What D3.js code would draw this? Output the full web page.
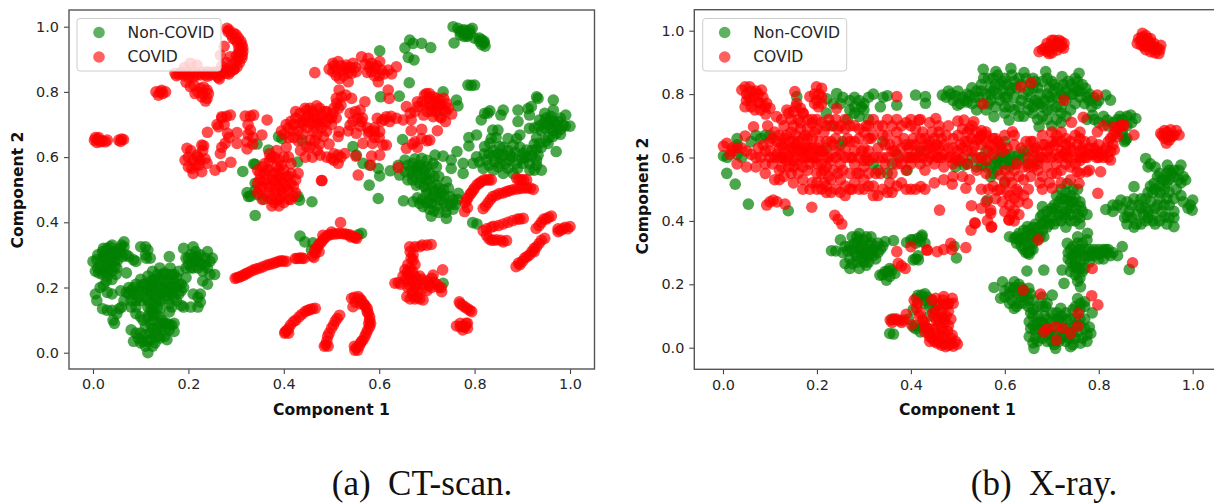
<!DOCTYPE html>
<html><head><meta charset="utf-8">
<script src="https://cdnjs.cloudflare.com/ajax/libs/d3/7.8.5/d3.min.js"></script>
<style>html,body{margin:0;padding:0;background:#fff;overflow:hidden}svg{display:block}</style>
</head><body><svg id="c" width="1214" height="503"></svg>
<script>
const tickValues=[0,0.2,0.4,0.6,0.8,1];
const yTickValues=[0,0.2,0.4,0.6,0.8,1];
const seriesNames=["Non-COVID","COVID"];
const xLabel="Component 1", yLabel="Component 2";
const captions=["(a)  CT-scan.","(b)  X-ray."];

const ctNonCovid=[
[0,.28],[.005,.25],[.01,.26],[.01,.3],[.015,.27],[.02,.24],[.02,.31],[.025,.28],[.025,.25],[.03,.32],[.03,.29],[.03,.265],[.03,.235],[.035,.3],[.035,.27],[.04,.25],[.04,.33],[.04,.225],[.045,.28],[.045,.31],[.05,.26],[.05,.3],[.055,.32],[.06,.33],[.065,.34],[.065,.325],[.07,.3],[.075,.295],[.085,.285],[.09,.28],[.07,.245],[.02,.29],[.028,.31],[.038,.285],[.012,.245],[.048,.24],
[.005,.18],[.008,.16],[.015,.2],[.022,.205],[.03,.185],[.02,.135],[.03,.13],[.04,.18],[.04,.13],[.055,.135],[.06,.14],[.045,.09],[.042,.1],[.05,.12],[.058,.19],[.07,.185],[.08,.14],[.085,.18],[.08,.19],[.09,.21],[.075,.2],[.08,.16],[.09,.12],[.1,.11],[.1,.16],[.1,.2],[.1,.225],[.105,.19],[.11,.17],[.11,.21],[.115,.235],[.12,.2],[.12,.15],[.12,.18],[.125,.25],[.125,.22],[.13,.17],[.13,.19],[.135,.14],[.135,.21],[.135,.24],[.14,.16],[.14,.26],[.145,.2],[.145,.18],[.15,.22],[.15,.165],[.155,.24],[.16,.2],[.16,.15],[.162,.26],[.165,.18],[.17,.22],[.17,.24],[.175,.2],[.175,.16],[.18,.25],[.18,.18],[.185,.21],[.19,.14],[.185,.145],[.195,.23],[.165,.14],[.16,.125],
[.1,.325],[.11,.325],[.115,.315],[.12,.29],[.16,.295],[.11,.3],[.112,.29],
[.19,.32],[.195,.29],[.2,.27],[.205,.3],[.21,.325],[.215,.28],[.22,.26],[.215,.31],[.225,.3],[.23,.25],[.235,.27],[.24,.31],[.245,.28],[.25,.29],[.23,.22],[.24,.21],[.255,.24],[.245,.24],[.205,.14],[.21,.18],[.22,.17],[.225,.18],[.22,.14],[.225,.155],
[.08,.07],[.085,.035],[.09,.06],[.1,.03],[.1,.06],[.105,.035],[.11,.08],[.115,0],[.115,.035],[.12,.06],[.125,.1],[.13,.03],[.13,.06],[.13,.12],[.135,.075],[.14,.045],[.145,.1],[.15,.07],[.155,.04],[.155,.09],[.16,.07],[.165,.085],[.17,.065],[.17,.09],[.105,.1],[.12,.125],
[.34,.421],[.434,.358],[.444,.34],[.461,.337],[.458,.315],[.563,.366],[.556,.362],[.734,.213],[.389,.663],[.396,.657],[.344,.64],[.368,.622],[.337,.579],[.34,.578],[.314,.556],[.429,.585],[.323,.491],[.326,.479],[.358,.471],[.34,.499],[.43,.479],[.433,.468],[.459,.463],[.438,.652],[.33,.48],[.345,.485],[.34,.52],
[.755,1],[.765,.995],[.77,.985],[.775,.99],[.78,.98],[.785,.975],[.79,.99],[.795,.995],[.785,.97],[.8,.965],[.81,.965],[.815,.96],[.82,.95],[.822,.94],[.82,.955],[.757,.95],
[.664,.959],[.654,.935],[.671,.949],[.689,.949],[.708,.936],[.661,.906],[.673,.898],[.601,.926],[.663,.828],[.603,.785],[.642,.787],[.786,.821],[.8,.821],[.793,.82],[.734,.8],[.762,.775],[.765,.757],[.93,.785],[.933,.78],[.965,.775],
[.814,.714],[.821,.734],[.832,.742],[.828,.735],[.86,.744],[.855,.729],[.891,.744],[.891,.709],[.912,.749],[.919,.755],[.915,.729],[.947,.734],[.965,.744],[.991,.729],[1,.695],[.985,.698],[.971,.698],[.958,.714],[.95,.72],[.947,.688],[.971,.673],[.964,.663],[.936,.714],[.915,.688],[.895,.668],[.888,.657],[.881,.637],[.87,.657],[.838,.683],[.849,.683],[.835,.657],[.832,.642],[.821,.632],[.804,.668],[.788,.66],[.788,.634],[.853,.632],[.909,.622],[.936,.642],[.971,.617],[.954,.642],[.933,.606],[.93,.591],[.94,.56],[.916,.56],[.901,.611],[.86,.606],[.873,.591],[.888,.581],[.901,.581],[.853,.581],[.842,.586],[.825,.591],[.804,.601],[.797,.581],[.818,.565],[.839,.56],[.86,.55],[.881,.55],[.776,.581],[.776,.55],[.763,.617],[.751,.591],[.751,.565],[.734,.603],[.717,.606],[.713,.581],[.689,.596],[.671,.581],[.678,.56],[.696,.56],[.706,.55],[.72,.57],[.654,.591],[.64,.575],[.643,.545],[.623,.558],[.601,.542],[.598,.565],[.58,.575],[.566,.581],[.545,.632],[.552,.606],[.649,.654],[.579,.514],[.598,.473],[.651,.466],[.671,.463],[.678,.514],[.699,.53],[.72,.514],[.741,.525],[.745,.504],[.699,.489],[.713,.479],[.727,.468],[.748,.479],[.766,.489],[.685,.458],[.71,.458],[.741,.448],[.76,.455],[.709,.419],[.741,.412],[.755,.44],[.796,.399],[.805,.395],[.692,.448],[.67,.545],[.685,.575],[.7,.59],[.695,.51],[.69,.535],[.71,.51],[.73,.49],[.725,.54],[.665,.56],[.705,.47],[.72,.45],[.735,.46],[.86,.63],[.87,.62],[.845,.66],[.85,.61],[.83,.61],[.96,.69],[.955,.66],[.94,.68],[.93,.66],[.98,.67],[.925,.64],[.92,.62],[.905,.6],[.88,.6]
];
const ctNonCovidMore=[
[.008,.285],[.018,.255],[.024,.3],[.032,.255],[.033,.31],[.042,.295],[.046,.265],[.052,.285],[.058,.31],[.062,.295],[.022,.32],[.028,.22],[.036,.325],
[.095,.17],[.095,.19],[.105,.21],[.115,.19],[.115,.16],[.12,.22],[.125,.185],[.125,.205],[.13,.225],[.13,.15],[.135,.185],[.135,.165],[.14,.2],[.14,.225],[.145,.24],[.15,.19],[.15,.245],[.155,.21],[.155,.175],[.16,.225],[.16,.185],[.165,.2],[.165,.24],[.17,.2],[.17,.17],[.175,.23],[.18,.21],[.185,.19],[.19,.2],[.075,.18],[.085,.2],[.09,.16],[.115,.14],[.125,.13],[.14,.135],[.09,.14],[.065,.16],
[.205,.26],[.21,.29],[.21,.26],[.218,.295],[.222,.28],[.228,.27],[.235,.29],[.2,.29],[.195,.26],[.24,.26],
[.095,.045],[.11,.055],[.11,.02],[.12,.04],[.125,.075],[.125,.02],[.135,.05],[.14,.09],[.14,.11],[.15,.05],[.145,.08],[.15,.09],[.115,.11],[.12,.09],[.125,.115],[.16,.085],
[.77,.975],[.78,.99],[.79,.98],[.778,.97],[.81,.955],[.815,.945],
[.98,.72],[.975,.71],[.965,.71],[.96,.725],[.955,.7],[.945,.705],[.935,.695],[.925,.69],[.99,.695],[.98,.685],[.965,.68],[.95,.65],[.94,.63],[.93,.625],[.92,.605],[.91,.6],[.895,.63],[.885,.615],[.875,.605],[.865,.58],[.85,.57],[.87,.565],[.89,.565],[.83,.575],[.81,.585],[.82,.61],[.84,.62],[.84,.605],[.855,.6],[.9,.595],[.915,.58],[.93,.575],[.925,.56],
[.68,.55],[.685,.52],[.695,.54],[.68,.57],[.69,.565],[.7,.57],[.705,.53],[.715,.54],[.67,.53],[.66,.53],[.655,.555],[.66,.575],[.675,.595],[.7,.5],[.715,.495],[.725,.505],[.735,.5],[.735,.48],[.72,.48],[.705,.44],[.715,.435],[.725,.43],[.74,.43],[.69,.47],[.68,.475],[.7,.46],[.755,.47],[.765,.47],[.75,.455]
];
const ctCovid=[
[.281,.995],[.285,.99],[.295,.98],[.3,.975],[.305,.965],[.31,.955],[.312,.945],[.314,.935],[.314,.924],[.313,.913],[.312,.903],[.307,.89],[.302,.877],[.295,.869],[.288,.862],[.278,.857],[.267,.852],[.256,.852],[.246,.852],[.235,.852],[.225,.852],[.218,.852],[.205,.852],[.19,.852],[.18,.854],[.172,.857],[.204,.888],[.218,.882],[.192,.875],[.267,.913],[.288,.908],[.28,.89],[.27,.88],[.275,.94],[.204,.816],[.212,.82],[.225,.811],[.239,.806],[.239,.78],[.214,.795],[.195,.83],[.23,.795],[.265,.84],
[.132,.8],[.141,.8],[.146,.795],[.152,.8],[.003,.652],[.01,.655],[.015,.647],[.02,.65],[.026,.647],[.054,.652],[.06,.655],[.064,.654],
[.263,.693],[.27,.724],[.28,.725],[.288,.729],[.319,.726],[.33,.726],[.337,.729],[.365,.714],[.24,.676],[.282,.673],[.302,.675],[.33,.683],[.354,.668],[.323,.647],[.323,.625],[.302,.642],[.277,.642],[.267,.611],[.228,.637],[.197,.627],[.218,.606],[.205,.62],[.239,.581],[.193,.591],[.207,.565],[.228,.555],[.256,.56],[.27,.571],[.289,.584],[.225,.591],[.27,.63],[.23,.62],[.285,.66],[.335,.66],[.21,.59],
[.345,.52],[.35,.55],[.35,.5],[.36,.53],[.36,.58],[.365,.48],[.37,.51],[.37,.56],[.375,.6],[.38,.53],[.38,.46],[.385,.5],[.385,.57],[.39,.54],[.39,.59],[.395,.48],[.4,.52],[.4,.56],[.41,.5],[.41,.54],[.415,.47],[.42,.51],[.425,.53],[.43,.55],[.425,.49],[.41,.6],[.405,.63],[.38,.6],[.37,.59],[.39,.47],[.345,.49],[.4,.46],[.48,.528],
[.465,.859],[.503,.888],[.514,.893],[.531,.882],[.545,.888],[.552,.862],[.542,.857],[.525,.865],[.503,.862],[.517,.841],[.535,.831],[.563,.908],[.577,.903],[.584,.888],[.601,.893],[.584,.862],[.598,.831],[.605,.867],[.619,.867],[.626,.855],[.636,.877],[.619,.806],[.621,.78],[.495,.87],[.59,.875],
[.516,.806],[.521,.785],[.542,.78],[.511,.765],[.57,.77],[.503,.734],[.469,.757],[.448,.744],[.434,.734],[.479,.729],[.49,.708],[.469,.704],[.462,.678],[.483,.663],[.455,.652],[.448,.632],[.476,.606],[.5,.596],[.514,.581],[.514,.606],[.528,.611],[.516,.678],[.514,.663],[.539,.734],[.56,.744],[.539,.698],[.563,.709],[.552,.673],[.58,.678],[.601,.678],[.577,.673],[.596,.719],[.615,.724],[.622,.709],[.636,.719],[.65,.714],[.657,.755],[.681,.755],[.695,.76],[.667,.714],[.667,.681],[.689,.685],[.722,.681],[.693,.729],[.713,.724],[.727,.724],[.739,.709],[.752,.732],[.699,.795],[.713,.785],[.727,.775],[.741,.765],[.72,.755],[.734,.744],[.725,.76],[.705,.78],[.675,.647],[.689,.657],[.706,.652],[.657,.627],[.566,.642],[.586,.642],[.608,.637],[.615,.637],[.551,.603],[.584,.603],[.601,.606],[.582,.575],[.64,.568],[.556,.545],[.479,.528],
[.41,.69],[.42,.7],[.425,.72],[.43,.68],[.44,.67],[.44,.71],[.45,.69],[.46,.72],[.47,.67],[.475,.7],[.43,.65],[.42,.66],[.405,.7],[.395,.68],[.41,.66],[.445,.75],[.46,.74],[.49,.74],[.5,.72],[.51,.72],[.48,.69],[.495,.64],[.435,.62],[.46,.6],[.445,.6],[.535,.68],[.56,.695],[.555,.72],[.605,.71],[.59,.68],
[.298,.228],[.306,.232],[.316,.238],[.325,.245],[.337,.254],[.35,.26],[.365,.269],[.378,.274],[.39,.28],[.399,.281],[.424,.289],[.433,.29],[.442,.289],[.463,.292],[.466,.305],[.47,.32],[.476,.335],[.484,.349],[.493,.361],[.505,.364],[.518,.366],[.53,.364],[.539,.361],[.546,.356],[.553,.351],[.519,.399],
[.403,.064],[.41,.074],[.42,.095],[.432,.11],[.445,.126],[.455,.132],[.466,.136],[.488,.024],[.492,.05],[.5,.075],[.508,.097],[.517,.115],
[.549,.008],[.555,.008],[.56,.028],[.566,.039],[.573,.06],[.58,.08],[.58,.1],[.577,.121],[.575,.135],[.57,.146],[.563,.16],[.556,.172],[.542,.167],[.545,.141],
[.664,.325],[.675,.325],[.69,.33],[.709,.332],[.671,.3],[.671,.284],[.66,.27],[.654,.254],[.66,.24],[.67,.25],[.633,.213],[.645,.21],[.66,.22],[.68,.21],[.69,.225],[.7,.22],[.71,.228],[.72,.21],[.73,.2],[.658,.172],[.67,.175],[.68,.17],[.692,.162],[.675,.2],[.7,.19],[.66,.2],[.731,.187],[.733,.254],[.713,.238],[.685,.235],
[.768,.156],[.775,.145],[.785,.135],[.794,.126],[.776,.08],[.782,.09],[.762,.082],[.785,.075],
[.818,.374],[.835,.385],[.85,.39],[.87,.4],[.89,.41],[.902,.412],[.83,.35],[.846,.346],[.855,.345],[.867,.344],[.929,.381],[.94,.4],[.95,.41],[.961,.419],[.887,.264],[.9,.28],[.915,.3],[.93,.325],[.947,.351],[.975,.371],[.985,.38],[1,.387],
[.783,.468],[.79,.485],[.797,.499],[.805,.515],[.814,.525],[.825,.53],[.835,.53],[.818,.442],[.828,.46],[.838,.479],[.852,.488],[.867,.494],[.88,.5],[.895,.504],[.91,.505],[.923,.501],[.888,.535],[.898,.53],[.909,.53],[.779,.433]
];
const ctCovidMore=[
[.283,.985],[.29,.975],[.298,.96],[.303,.95],[.306,.935],[.305,.92],[.305,.905],[.3,.895],[.29,.88],[.282,.87],[.272,.865],[.26,.862],[.25,.86],[.24,.862],[.23,.86],[.212,.86],[.198,.858],[.185,.86],[.3,.91],[.308,.925],[.293,.965],[.296,.87],[.262,.845],[.285,.855],[.24,.848],[.21,.845],[.2,.845],[.175,.85],
[.22,.8],[.232,.815],[.242,.795],[.228,.785],[.236,.772],[.137,.79],[.144,.805],[.008,.645],[.012,.66],[.03,.652],[.058,.648],[.005,.66],
[.22,.6],[.215,.575],[.2,.57],[.21,.55],[.222,.575],[.2,.6],[.235,.595],[.232,.635],[.27,.72],[.26,.7],[.275,.7],[.325,.7],[.325,.67],[.335,.64],
[.35,.53],[.355,.51],[.36,.55],[.365,.52],[.365,.56],[.37,.49],[.375,.53],[.375,.47],[.38,.55],[.38,.5],[.385,.47],[.385,.53],[.39,.51],[.39,.56],[.395,.53],[.395,.5],[.4,.49],[.405,.51],[.405,.54],[.41,.47],[.415,.52],[.415,.55],[.42,.48],[.375,.45],[.39,.45],[.355,.47],[.355,.57],[.395,.575],[.37,.61],[.385,.62],[.4,.6],[.415,.58],[.345,.56],
[.505,.88],[.51,.87],[.52,.88],[.53,.875],[.535,.86],[.54,.875],[.55,.875],[.51,.85],[.525,.85],[.57,.885],[.58,.875],[.59,.85],[.6,.85],[.61,.855],[.595,.88],[.575,.86],
[.44,.7],[.445,.72],[.45,.73],[.455,.71],[.455,.75],[.46,.7],[.465,.73],[.47,.72],[.475,.75],[.48,.71],[.485,.74],[.495,.72],[.505,.75],[.51,.78],[.515,.75],[.52,.76],[.53,.79],[.5,.7],[.49,.68],[.465,.65],[.475,.64],[.47,.62],[.455,.63],[.49,.6],[.505,.61],[.505,.59],[.52,.6],[.545,.71],[.55,.74],[.565,.72],[.575,.69],[.59,.66],[.6,.66],[.61,.715],[.625,.725],[.59,.69],[.425,.74],[.435,.705],[.415,.71],[.42,.68],[.4,.67],
[.68,.77],[.69,.77],[.705,.76],[.71,.755],[.715,.77],[.72,.78],[.73,.76],[.74,.74],[.745,.75],[.7,.74],[.71,.74],[.72,.74],[.73,.72],[.675,.74],[.665,.735],[.695,.79],[.705,.795],[.735,.78],[.7,.65],[.67,.64],[.68,.63],
[.302,.23],[.311,.235],[.32,.242],[.331,.25],[.343,.257],[.357,.264],[.371,.271],[.384,.277],[.395,.282],[.405,.28],[.428,.289],[.438,.29],[.46,.297],[.472,.33],[.48,.342],[.488,.355],[.498,.362],[.512,.365],[.524,.365],[.535,.362],[.55,.353],[.465,.315],[.474,.31],[.482,.36],[.5,.37],[.54,.355],
[.406,.068],[.414,.085],[.425,.1],[.438,.118],[.45,.13],[.46,.135],[.402,.06],[.41,.06],[.49,.035],[.495,.06],[.504,.085],[.512,.105],[.485,.02],[.493,.02],
[.552,.015],[.548,.02],[.558,.02],[.563,.035],[.57,.05],[.576,.07],[.578,.09],[.582,.09],[.58,.11],[.575,.125],[.572,.14],[.567,.15],[.56,.165],[.548,.17],[.55,.155],[.56,.15],
[.665,.31],[.667,.29],[.675,.27],[.665,.26],[.66,.25],[.65,.235],[.665,.235],[.675,.235],[.655,.225],[.67,.22],[.68,.225],[.695,.21],[.705,.205],[.715,.215],[.725,.2],[.69,.195],[.68,.19],[.67,.185],[.685,.165],[.675,.165],[.665,.165],[.7,.33],[.685,.325],[.64,.215],[.665,.205],[.71,.2],
[.77,.15],[.78,.14],[.79,.13],[.77,.09],[.775,.07],[.785,.09],[.78,.08],[.77,.08],
[.825,.38],[.84,.388],[.86,.395],[.88,.405],[.895,.41],[.825,.36],[.835,.345],[.84,.345],[.86,.34],[.935,.39],[.945,.41],[.955,.415],[.895,.27],[.905,.29],[.91,.295],[.92,.31],[.925,.32],[.935,.335],[.94,.345],[.98,.375],[.99,.385],[.975,.38],[.995,.38],[.892,.275],[.925,.31],
[.786,.475],[.793,.49],[.8,.505],[.81,.52],[.82,.53],[.83,.53],[.823,.45],[.833,.47],[.845,.483],[.86,.49],[.873,.497],[.888,.502],[.902,.505],[.917,.505],[.893,.53],[.903,.53],[.785,.445],[.78,.46]
];
const xrNonCovid=[
[.231,.306],[.24,.305],[.25,.34],[.255,.3],[.26,.265],[.27,.32],[.27,.28],[.27,.25],[.275,.35],[.28,.3],[.285,.33],[.285,.27],[.29,.36],[.29,.31],[.295,.28],[.3,.34],[.3,.3],[.305,.26],[.31,.325],[.31,.29],[.315,.35],[.32,.31],[.325,.28],[.33,.33],[.335,.31],[.34,.32],[.345,.335],[.363,.338],[.334,.229],[.348,.213],[.345,.24],[.355,.25],[.366,.234],[.391,.332],[.4,.34],[.41,.33],[.423,.35],[.43,.33],[.405,.277],[.416,.277],[.412,.156],[.423,.166],[.43,.15],[.44,.13],[.45,.12],[.405,.12],[.355,.045],[.363,.043],[.405,.066],[.41,.06],[.395,.09],[.36,.09],[.424,.355],[.41,.28],[.435,.16],[.497,.283],[.492,.32],[.425,.065],
[.62,.345],[.648,.382],[.676,.413],[.652,.295],[.61,.35],[.625,.33],[.63,.36],[.64,.34],[.64,.31],[.655,.36],[.66,.33],[.66,.31],[.665,.39],[.67,.36],[.68,.37],[.683,.35],[.69,.38],[.65,.32],
[.754,.298],[.733,.329],[.776,.361],[.818,.298],[.85,.319],[.761,.192],[.722,.245],[.74,.24],[.726,.203],[.647,.242],[.683,.245],[.865,.247],[.735,.3],[.745,.32],[.75,.27],[.76,.3],[.765,.33],[.77,.29],[.78,.31],[.79,.29],[.8,.31],[.81,.28],[.82,.31],[.83,.3],[.84,.29],[.76,.25],[.75,.23],[.76,.22],[.78,.27],
[.577,.19],[.595,.208],[.62,.208],[.651,.187],[.591,.156],[.62,.124],[.701,.166],[.687,.129],[.719,.124],[.761,.14],[.786,.11],[.652,.082],[.652,.035],[.662,-.002],[.708,-.002],[.74,.003],[.761,.014],[.783,.045],[.78,.065],[.719,.056],[.6,.18],[.61,.17],[.625,.17],[.635,.19],[.64,.16],[.63,.14],[.66,.15],[.65,.13],[.68,.16],[.69,.09],[.67,.1],[.66,.07],[.68,.05],[.67,.02],[.69,.02],[.7,.04],[.71,.09],[.72,.03],[.73,.09],[.74,.06],[.75,.03],[.76,.07],[.77,.06],[.745,.12],[.77,.13],[.7,.11],[.665,.055],[.675,.08],[.705,.01],[.73,.02],
[.467,.797],[.48,.81],[.49,.78],[.499,.765],[.5,.81],[.52,.8],[.53,.82],[.53,.77],[.55,.83],[.554,.878],[.56,.8],[.57,.82],[.581,.871],[.58,.83],[.59,.78],[.6,.85],[.61,.81],[.613,.881],[.62,.84],[.63,.76],[.64,.8],[.641,.868],[.65,.77],[.66,.85],[.665,.78],[.67,.82],[.68,.76],[.687,.871],[.69,.8],[.7,.75],[.7,.84],[.71,.79],[.72,.76],[.722,.855],[.73,.81],[.74,.83],[.75,.77],[.758,.866],[.755,.84],[.76,.79],[.772,.818],[.787,.734],[.79,.79],[.8,.78],[.815,.797],[.825,.781],[.77,.77],[.673,.697],[.609,.718],[.577,.729],[.56,.75],[.6,.74],[.64,.73],[.66,.74],[.7,.7],[.72,.71],[.73,.73],[.431,.792],[.41,.797],[.431,.771],[.35,.795],
[.868,.734],[.879,.723],[.818,.718],[.857,.655],[.84,.72],[.83,.71],[.86,.7],
[.584,.592],[.62,.603],[.64,.6],[.56,.59],[.513,.576],[.495,.57],[.57,.539],[.6,.524],[.563,.466],[.6,.58],[.61,.59],[.65,.62],[.53,.6],[.54,.57],[.6,.65],[.56,.62],
[.733,.518],[.726,.466],[.761,.445],[.68,.445],[.775,.42],[.7,.41],[.71,.48],[.74,.48],[.75,.44],[.72,.43],[.695,.39],[.74,.4],[.76,.39],[.71,.4],[.73,.38],[.755,.5],[.7,.44],
[.9,.597],[.91,.58],[.946,.576],[.975,.576],[.985,.529],[1,.466],[.999,.434],[.918,.519],[.875,.508],[.847,.466],[.815,.436],[.861,.413],[.939,.413],[.96,.382],[.93,.55],[.95,.53],[.96,.56],[.97,.53],[.94,.5],[.905,.49],[.89,.47],[.87,.45],[.85,.44],[.88,.42],[.9,.44],[.915,.42],[.925,.45],[.95,.45],[.92,.39],[.89,.39],[.875,.38],[.96,.41],
[.009,.6],[.001,.605],[.008,.55],[.026,.516],[.054,.453],[.139,.432],[.03,.61],[.03,.66],[.04,.6],[.07,.67],[.09,.67],[.157,.792],[.221,.785],[.242,.802],[.255,.79],[.25,.77],[.265,.72],[.29,.78],[.3,.77],[.31,.79],[.32,.8],[.29,.73],[.3,.75],[.341,.79],[.37,.765],[.335,.76],[.28,.76],[.22,.74],[.23,.7],[.25,.64],[.22,.63],[.255,.65],[.37,.61],[.32,.58],[.33,.56],[.35,.55],[.34,.65],[.36,.58],[.392,.56],[.4,.6],[.42,.62]
];
const xrNonCovidMore=[
[.265,.305],[.275,.265],[.275,.31],[.28,.33],[.285,.29],[.29,.34],[.29,.25],[.295,.32],[.295,.3],[.3,.27],[.305,.31],[.305,.29],[.31,.27],[.315,.3],[.315,.33],[.32,.29],[.325,.32],[.33,.3],[.285,.35],[.305,.35],[.26,.32],[.34,.23],[.355,.225],[.36,.245],[.35,.24],[.405,.34],[.415,.345],[.42,.335],[.415,.29],
[.43,.14],[.415,.165],[.445,.15],[.455,.135],[.44,.1],[.43,.17],[.41,.07],[.42,.05],
[.625,.35],[.635,.345],[.645,.35],[.65,.37],[.66,.35],[.66,.38],[.67,.34],[.67,.38],[.68,.39],[.645,.3],[.655,.31],[.635,.32],[.685,.4],
[.735,.28],[.74,.31],[.74,.27],[.75,.3],[.755,.33],[.755,.25],[.76,.27],[.77,.31],[.775,.34],[.785,.3],[.795,.3],[.805,.3],[.815,.31],[.765,.24],[.755,.21],[.745,.255],[.825,.29],[.8,.28],[.79,.31],
[.6,.16],[.61,.19],[.615,.15],[.62,.18],[.63,.2],[.635,.16],[.645,.17],[.65,.15],[.655,.11],[.66,.12],[.67,.08],[.665,.03],[.68,.08],[.68,.03],[.685,.1],[.695,.05],[.7,.08],[.7,.02],[.71,.11],[.715,.09],[.72,.08],[.725,.04],[.73,.11],[.735,.03],[.74,.09],[.745,.05],[.75,.09],[.755,.05],[.765,.03],[.775,.04],[.75,.13],[.76,.12],[.755,.155],[.77,.145],[.67,.13],[.64,.14],[.655,.06],[.66,.015],[.715,.02],[.745,.01],
[.475,.79],[.485,.8],[.495,.795],[.51,.79],[.515,.78],[.525,.795],[.54,.81],[.545,.79],[.55,.81],[.555,.85],[.565,.85],[.57,.8],[.575,.85],[.585,.86],[.59,.83],[.595,.81],[.6,.79],[.605,.83],[.615,.86],[.62,.79],[.625,.82],[.63,.85],[.635,.78],[.645,.85],[.65,.81],[.655,.79],[.66,.82],[.67,.77],[.675,.8],[.68,.84],[.685,.78],[.69,.85],[.695,.82],[.7,.78],[.705,.81],[.715,.82],[.72,.8],[.725,.83],[.73,.78],[.735,.84],[.745,.8],[.75,.85],[.755,.81],[.765,.83],[.775,.79],[.78,.78],[.785,.76],[.66,.76],[.68,.73],[.69,.75],[.71,.76],[.72,.74],[.62,.75],[.61,.76],[.58,.76],[.57,.78],[.55,.77],[.54,.75],
[.85,.72],[.86,.73],[.82,.7],[.87,.71],[.85,.67],[.86,.66],
[.58,.58],[.59,.6],[.6,.6],[.62,.58],[.64,.62],[.57,.57],[.61,.61],[.63,.61],[.585,.56],[.575,.55],[.55,.575],[.59,.63],
[.715,.46],[.72,.5],[.73,.49],[.735,.45],[.745,.46],[.74,.44],[.73,.43],[.715,.42],[.72,.4],[.705,.45],[.755,.42],[.765,.43],[.75,.4],[.745,.5],[.69,.43],
[.905,.57],[.92,.57],[.925,.54],[.935,.53],[.945,.55],[.955,.55],[.965,.5],[.975,.52],[.945,.52],[.93,.51],[.915,.49],[.9,.47],[.885,.45],[.865,.43],[.84,.45],[.855,.41],[.905,.41],[.92,.44],[.935,.43],[.945,.47],[.93,.47],[.91,.46],[.895,.42],[.875,.47],[.86,.46],[.88,.39],[.9,.4],[.95,.41],[.995,.45],
[.06,.65],[.08,.66],[.1,.67],[.03,.64],[.235,.77],[.27,.78],[.28,.74],[.27,.75],[.31,.72],[.295,.76],[.28,.79],
[.505,.77],[.52,.775],[.535,.79],[.565,.77],[.585,.8],[.605,.79],[.615,.82],[.635,.83],[.655,.83],[.665,.84],[.675,.77],[.695,.79],[.705,.83],[.725,.79],[.74,.8],[.75,.82],[.76,.81],[.78,.8],[.795,.77],[.63,.73],[.65,.75],[.67,.72],[.69,.72],[.71,.72],[.74,.75],[.6,.76],[.575,.81],[.595,.84],
[.775,.72],[.79,.72],[.8,.71],[.81,.73],[.85,.68],[.845,.73],[.855,.65],
[.59,.58],[.61,.57],[.63,.59],[.65,.58],[.67,.59],[.6,.61],[.58,.6],[.56,.57],[.55,.6],[.52,.58],[.505,.59],
[.68,.42],[.69,.4],[.7,.43],[.71,.44],[.72,.47],[.73,.47],[.74,.46],[.75,.47],[.76,.46],[.73,.41],[.74,.42],[.76,.41],[.725,.42],[.705,.39],
[.94,.53],[.96,.54],[.95,.56],[.98,.54],[.97,.56],[.91,.51],[.92,.5],[.93,.49],[.95,.49],[.96,.47],[.98,.46],[.99,.44],[.975,.48],[.94,.45],[.905,.43],[.89,.44],[.87,.41],[.86,.39],[.83,.43],[.83,.45],[.915,.4],[.93,.4],[.945,.39],[.96,.43],
[.62,.19],[.64,.18],[.655,.17],[.61,.14],[.625,.13],[.66,.1],[.67,.06],[.685,.07],[.69,.04],[.7,.06],[.71,.04],[.72,.1],[.73,.06],[.74,.03],[.75,.07],[.76,.09],[.77,.09],[.775,.02],[.69,.14],[.68,.13],
[.64,.37],[.63,.34],[.65,.34],[.66,.36],[.675,.35],[.65,.3],[.76,.31],[.77,.28],[.78,.29],[.8,.295],[.81,.31],[.75,.26],[.77,.25],[.745,.29],[.755,.35]
];
const xrCovid=[
[.356,.087],[.365,.09],[.375,.085],[.384,.087],[.37,.303],[.373,.266],[.38,.258],[.388,.25],[.4,.319],[.434,.308],[.238,.418],[.245,.405],[.253,.39],[.402,.072],[.39,.105],
[.407,.15],[.414,.14],[.42,.11],[.425,.087],[.43,.07],[.439,.045],[.445,.03],[.456,.014],[.465,.008],[.474,.003],[.485,.012],[.499,.011],[.478,.053],[.47,.035],[.467,.097],[.449,.097],[.46,.075],[.472,.08],[.455,.03],[.44,.02],[.453,.156],[.47,.161],[.488,.156],[.478,.135],[.46,.135],
[.435,.308],[.456,.303],[.47,.31],[.485,.329],[.487,.31],[.517,.316],[.528,.371],[.537,.392],[.571,.38],[.563,.401],[.57,.424],[.609,.403],[.615,.42],
[.671,.34],[.786,.25],[.872,.268],[.639,.182],[.676,.169],[.785,.164],[.798,.135],[.756,.108],[.683,.05],[.69,.06],[.708,.066],[.724,.061],[.74,.045],[.755,.068],[.71,.024],
[.69,.96],[.7,.97],[.711,.96],[.72,.965],[.726,.96],[.673,.934],[.685,.945],[.694,.928],[.711,.939],[.7,.945],
[.893,.992],[.9,.985],[.903,.976],[.882,.96],[.896,.95],[.89,.97],[.91,.96],[.917,.96],[.932,.954],[.928,.928],[.91,.934],[.92,.94],
[.932,.676],[.953,.687],[.971,.671],[.944,.645],[.96,.67],[.945,.665],[.94,.685],
[.453,.723],[.417,.718],[.513,.718],[.534,.713],[.55,.685],[.591,.639],[.616,.681],[.634,.823],[.656,.836],[.554,.769],[.726,.781],[.797,.797],[.742,.711],[.767,.727],[.797,.681],[.833,.697],[.854,.702],[.875,.671],[.84,.666],[.833,.624],[.825,.592],[.804,.555],[.775,.555],[.754,.555],[.758,.518],[.798,.487],[.701,.503],[.675,.52],[.648,.455],[.62,.434],[.609,.403],[.57,.434],[.584,.496],[.628,.492],[.529,.448],[.461,.434],[.421,.508],[.517,.503],[.488,.516],[.536,.394],[.572,.382],[.525,.53],[.54,.56],[.55,.5],[.56,.55],[.605,.49],[.595,.46],[.61,.45],[.63,.46],[.64,.53],[.655,.54],[.67,.56],[.68,.5],[.7,.55],[.72,.56],[.73,.6],[.75,.58],[.77,.6],[.79,.61],[.81,.62],[.82,.65],[.83,.67],[.85,.7],[.81,.7],
[.66,.65],[.67,.62],[.68,.6],[.685,.64],[.7,.65],[.71,.61],[.72,.62],[.73,.66],[.74,.63],[.75,.67],[.76,.62],[.77,.65],[.78,.63],[.795,.6],[.8,.64],[.65,.6],[.64,.57],[.62,.56],[.61,.54],[.6,.56],[.59,.545],[.625,.58],[.66,.59],[.71,.58],[.74,.57],[.76,.59],[.655,.65],[.69,.62],[.73,.64],[.76,.66],
[.5,.715],[.51,.69],[.52,.68],[.53,.7],[.54,.655],[.55,.64],[.56,.67],[.57,.64],[.58,.66],[.6,.67],[.62,.67],[.56,.68],[.535,.635],
[.047,.823],[.057,.823],[.05,.8],[.04,.813],[.082,.813],[.065,.792],[.06,.78],[.075,.775],[.093,.771],[.047,.76],[.068,.75],[.091,.737],[.153,.808],[.185,.792],[.199,.823],[.21,.818],[.203,.76],[.2,.78],[.242,.755],[.37,.792],[.065,.697],[.047,.668],[.001,.636],[.008,.645],[.02,.63],[.04,.63],[.015,.61],[.03,.58],[.05,.57],[.07,.6],[.07,.57],[.09,.55],[.093,.45],[.1,.46],[.107,.466],[.115,.46],[.132,.453],[.189,.443],
[.09,.62],[.1,.65],[.11,.6],[.11,.68],[.12,.63],[.12,.56],[.13,.66],[.13,.6],[.13,.7],[.14,.62],[.14,.57],[.14,.74],[.15,.65],[.15,.59],[.15,.7],[.155,.76],[.16,.62],[.16,.55],[.16,.72],[.17,.66],[.17,.6],[.17,.5],[.17,.74],[.18,.63],[.18,.56],[.18,.69],[.19,.72],[.19,.6],[.19,.66],[.19,.52],[.2,.58],[.2,.63],[.2,.69],[.21,.55],[.21,.62],[.21,.5],[.22,.7],[.22,.6],[.22,.57],[.22,.49],[.23,.65],[.23,.53],[.24,.72],[.24,.6],[.25,.58],[.25,.49],[.26,.69],[.26,.6],[.27,.55],[.27,.65],[.28,.58],[.28,.62],[.28,.52],[.29,.6],[.3,.68],[.3,.5],[.3,.63],[.31,.59],[.31,.66],[.32,.48],[.33,.63],[.33,.7],[.34,.6],[.34,.5],[.35,.72],[.36,.62],[.36,.49],[.37,.58],[.37,.68],[.38,.63],[.38,.7],[.39,.6],[.39,.56],[.4,.64],[.4,.7],[.41,.61],[.41,.5],[.42,.58],[.42,.66],[.43,.62],[.43,.56],[.44,.65],[.44,.6],[.45,.58],[.45,.63],[.46,.68],[.46,.6],[.47,.57],[.47,.64],[.48,.6],[.48,.7],[.49,.66],[.49,.58],[.5,.62],[.5,.67],[.51,.6],[.515,.65],[.52,.58],[.105,.58],[.11,.53],[.125,.6],[.095,.7],[.155,.64],[.165,.69],[.175,.63],[.145,.55],[.205,.65],[.215,.68],[.275,.6],[.305,.6],[.345,.64],[.395,.63],[.405,.6],[.435,.64]
];
const xrCovidMore=[
[.36,.08],[.37,.09],[.38,.08],[.412,.125],[.418,.1],[.428,.08],[.435,.06],[.44,.035],[.45,.02],[.46,.02],[.47,.012],[.48,.008],[.49,.005],[.495,.02],[.485,.03],[.478,.02],[.47,.05],[.48,.07],[.465,.06],[.475,.1],[.465,.115],[.455,.085],[.447,.11],[.452,.06],[.46,.04],[.45,.045],[.488,.04],[.48,.115],[.468,.15],[.445,.15],
[.695,.95],[.705,.955],[.715,.95],[.72,.95],[.68,.94],[.69,.935],[.7,.93],[.725,.945],[.705,.97],[.715,.97],
[.892,.98],[.897,.97],[.905,.965],[.9,.955],[.89,.955],[.905,.95],[.915,.95],[.925,.945],[.92,.93],[.93,.94],[.885,.975],[.91,.975],[.9,.94],
[.95,.67],[.955,.665],[.935,.67],[.95,.655],[.965,.685],[.945,.68],[.94,.66],
[.06,.81],[.07,.81],[.075,.8],[.05,.78],[.055,.79],[.085,.79],[.08,.77],[.06,.76],[.08,.75],[.09,.76],[.1,.755],[.195,.8],[.205,.8],[.21,.79],[.195,.77],[.21,.77],
[.02,.62],[.03,.63],[.05,.62],[.06,.61],[.08,.6],[.085,.64],[.075,.63],[.09,.58],[.1,.6],[.1,.62],[.105,.66],[.115,.65],[.115,.61],[.12,.6],[.12,.67],[.125,.64],[.125,.57],[.13,.63],[.135,.67],[.135,.59],[.14,.65],[.14,.6],[.145,.63],[.145,.68],[.15,.62],[.15,.57],[.155,.6],[.155,.67],[.16,.65],[.16,.58],[.165,.63],[.165,.71],[.17,.62],[.17,.57],[.175,.67],[.175,.6],[.18,.6],[.18,.66],[.185,.58],[.185,.63],[.19,.63],[.195,.6],[.195,.68],[.2,.6],[.2,.55],[.205,.62],[.21,.58],[.215,.62],[.215,.56],[.22,.65],[.225,.6],[.225,.54],[.23,.59],[.235,.64],[.235,.56],[.24,.66],[.24,.62],[.245,.55],[.25,.61],[.25,.7],[.255,.56],[.26,.63],[.26,.51],[.265,.66],[.27,.6],[.27,.7],[.275,.5],[.28,.65],[.285,.55],[.29,.66],[.295,.62],[.3,.57],[.3,.59],[.305,.7],[.31,.55],[.31,.62],[.315,.66],[.32,.6],[.32,.67],[.325,.55],[.33,.6],[.335,.55],[.34,.67],[.345,.58],[.35,.6],[.35,.67],[.355,.64],[.36,.55],[.365,.62],[.37,.65],[.375,.6],[.38,.58],[.385,.66],[.39,.64],[.395,.6],[.4,.58],[.405,.66],[.41,.64],[.41,.69],[.415,.6],[.42,.63],[.425,.6],[.425,.68],[.43,.66],[.435,.59],[.44,.63],[.445,.61],[.445,.68],[.45,.66],[.455,.6],[.455,.64],[.46,.63],[.465,.66],[.465,.6],[.47,.61],[.475,.67],[.48,.63],[.485,.6],[.49,.63],[.495,.6],[.5,.59],[.505,.64],[.51,.63],[.52,.62],[.52,.65],[.53,.66],[.525,.69],[.54,.68],[.545,.66],[.55,.67],[.56,.65],[.565,.62],[.575,.66],[.585,.65],
[.2,.52],[.22,.51],[.24,.5],[.26,.48],[.29,.55],[.31,.51],[.33,.48],[.35,.49],[.38,.52],[.4,.5],
[.66,.62],[.665,.63],[.675,.6],[.68,.64],[.69,.6],[.695,.63],[.7,.6],[.705,.64],[.71,.65],[.715,.6],[.72,.65],[.725,.61],[.73,.62],[.735,.6],[.74,.65],[.745,.62],[.75,.6],[.755,.64],[.76,.6],[.765,.63],[.77,.62],[.775,.6],[.78,.61],[.785,.65],[.79,.63],[.795,.62],[.8,.6],[.805,.61],[.81,.6],[.815,.63],[.82,.6],[.825,.62],[.83,.64],[.84,.69],[.835,.68],[.845,.7],[.825,.66],[.72,.68],[.71,.67],[.7,.68],[.68,.67],[.76,.68],[.73,.58],[.71,.55],[.69,.57],[.67,.58],[.65,.57],[.63,.54],[.615,.52],[.6,.52],[.62,.47],[.625,.5],[.6,.43],[.58,.47],
[.114,.729],[.125,.72],[.136,.75],[.145,.72],[.157,.771],[.15,.745],[.171,.739],[.165,.755],[.18,.72],[.189,.708],[.2,.72],[.21,.71],[.225,.72],[.235,.7],[.245,.69],[.26,.72],[.28,.7],[.29,.69],[.31,.7],[.32,.72],[.34,.7],[.36,.7],[.37,.72],[.39,.71],[.4,.72],[.42,.72],[.44,.71],[.46,.7],[.12,.53],[.13,.54],[.15,.52],[.17,.53],[.185,.5],[.2,.5],[.215,.52],[.23,.49],[.25,.53],[.27,.5],[.29,.5],[.3,.53],[.32,.51],[.355,.52],[.37,.51],[.39,.5],[.43,.5],[.45,.52],[.47,.53],[.49,.54],[.51,.54],
[.53,.62],[.54,.6],[.55,.6],[.56,.59],[.575,.61],[.58,.63],[.595,.62],[.605,.63],[.62,.64],[.635,.63],[.645,.65],[.66,.57],[.68,.54],[.695,.52],[.72,.52],[.74,.53],[.76,.55],[.78,.56],[.65,.5],[.64,.48],[.61,.48],[.59,.5],[.575,.51],[.565,.5],[.56,.46],[.55,.44],[.63,.42],[.62,.4],
[.48,.14],[.47,.135],[.49,.14],[.455,.115],[.44,.06],[.43,.05],[.46,.09],[.47,.09],[.485,.09]
];

const panels=[
 {non:ctNonCovid.concat(ctNonCovidMore),cov:ctCovid.concat(ctCovidMore),x:[69,594.5],y:[10,369],x0:93,x1:570,y0:352.7,y1:26.7,cap:captions[0],capX:422,lx:[77,221],lab:331.5},
 {non:xrNonCovid.concat(xrNonCovidMore),cov:xrCovid.concat(xrCovidMore),x:[694.3,1216],y:[9.7,369.3],x0:723,x1:1192.7,y0:347.7,y1:30.7,cap:captions[1],capX:1044,lx:[702.7,846.7],lab:957.5}
];
const svg=d3.select("#c");
const FONT="'DejaVu Sans',sans-serif", INK="#262626";
panels.forEach((p,idx)=>{
  const xS=d3.scaleLinear().domain([0,1]).range([p.x0,p.x1]);
  const yS=d3.scaleLinear().domain([0,1]).range([p.y0,p.y1]);
  const g=svg.append("g").attr("class","panel");
  const dots=(data,color)=>g.append("g").selectAll("circle").data(data).join("circle")
    .attr("cx",d=>xS(d[0])).attr("cy",d=>yS(d[1])).attr("r",5.8)
    .attr("fill",color).attr("fill-opacity",.7);
  dots(p.non,"#008000"); dots(p.cov,"#ff0000");
  const ax=g.append("g").attr("transform",`translate(0,${p.y[1]})`)
    .call(d3.axisBottom(xS).tickValues(tickValues).tickFormat(d3.format(".1f")).tickSize(5).tickPadding(5));
  const ay=g.append("g").attr("transform",`translate(${p.x[0]},0)`)
    .call(d3.axisLeft(yS).tickValues(yTickValues).tickFormat(d3.format(".1f")).tickSize(5).tickPadding(5));
  [ax,ay].forEach(a=>{a.select(".domain").remove();
    a.selectAll("line").attr("stroke","#444").attr("stroke-width",1.1);
    a.selectAll("text").attr("font-family",FONT).attr("font-size",14.4).attr("fill",INK);});
  g.append("rect").attr("x",p.x[0]).attr("y",p.y[0]).attr("width",p.x[1]-p.x[0]).attr("height",p.y[1]-p.y[0])
    .attr("fill","none").attr("stroke","#555").attr("stroke-width",1.4);
  g.append("text").attr("x",p.lab).attr("y",415).attr("text-anchor","middle")
    .attr("font-family",FONT).attr("font-weight","bold").attr("font-size",15.6).attr("fill","#111").text(xLabel);
  g.append("text").attr("transform",`translate(${idx?648:23},${idx?196:190}) rotate(-90)`).attr("text-anchor","middle")
    .attr("font-family",FONT).attr("font-weight","bold").attr("font-size",15.6).attr("fill","#111").text(yLabel);
  const leg=g.append("g");
  leg.append("rect").attr("x",p.lx[0]).attr("y",18.5).attr("width",p.lx[1]-p.lx[0]).attr("height",52.5).attr("rx",3)
    .attr("fill","#fff").attr("fill-opacity",.8).attr("stroke","#ccc").attr("stroke-width",1);
  seriesNames.forEach((n,i)=>{
    const color=i?"#ff0000":"#008000", ly=[32.5,57][i];
    leg.append("circle").attr("cx",p.lx[0]+22).attr("cy",ly).attr("r",5.8).attr("fill",color).attr("fill-opacity",.62);
    leg.append("text").attr("x",p.lx[0]+50.5).attr("y",ly+5).attr("font-family",FONT).attr("font-size",15.6).attr("fill",INK).text(n);
  });
  svg.append("text").attr("x",p.capX).attr("y",495).attr("text-anchor","middle")
    .attr("font-family","'Liberation Serif',serif").attr("font-size",35).attr("fill","#111").style("white-space","pre").text(p.cap);
});
</script></body></html>
